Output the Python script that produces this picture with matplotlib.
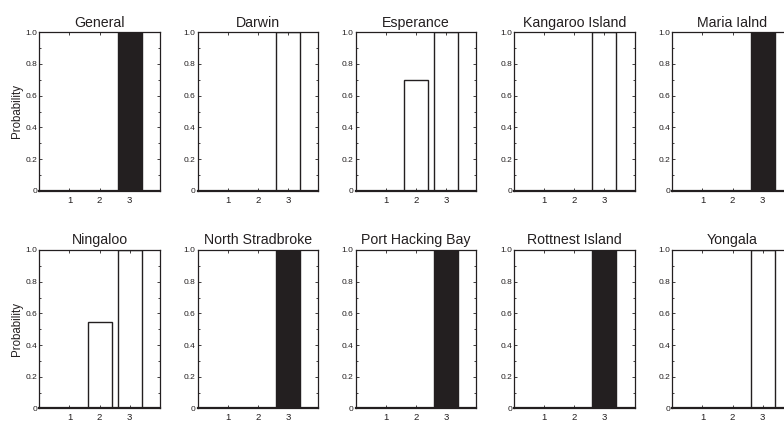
import numpy as np
import matplotlib
import matplotlib.pyplot as plt

matplotlib.use("Agg")

plt.rcParams['font.family'] = ['Liberation Sans', 'DejaVu Sans']

# panel names and bar heights (classes 1, 2, 3)
sites = ['General', 'Darwin', 'Esperance', 'Kangaroo Island', 'Maria Ialnd',
         'Ningaloo', 'North Stradbroke', 'Port Hacking Bay', 'Rottnest Island', 'Yongala']
classes = [1, 2, 3]
probs = [
    [0, 0, 1.0],
    [0, 0, 1.0],
    [0, 0.70, 1.0],
    [0, 0, 1.0],
    [0, 0, 1.0],
    [0, 0.545, 1.0],
    [0, 0, 1.0],
    [0, 0, 1.0],
    [0, 0, 1.0],
    [0, 0, 1.0],
]
filled = [True, False, False, False, True, False, True, True, True, False]
yticks = [0, 0.2, 0.4, 0.6, 0.8, 1.0]
ytick_labels = ['0', '0.2', '0.4', '0.6', '0.8', '1.0']

ink = '#231f20'
W, H = 784, 424
fig = plt.figure(figsize=(W / 100, H / 100), dpi=100)

# axes boxes in pixels (last column runs past the edge)
col_left = [39.3, 197.5, 355.7, 514.0, 672.3]
row_top = [32.3, 250.0]
ax_w, ax_h = 120.5, 158.4

for i, name in enumerate(sites):
    r, c = divmod(i, 5)
    rect = [col_left[c] / W, 1 - (row_top[r] + ax_h) / H, ax_w / W, ax_h / H]
    ax = fig.add_axes(rect)
    fc = ink if filled[i] else 'white'
    ax.bar(classes, probs[i], width=0.8, color=fc, edgecolor=ink, linewidth=1.0)
    ax.set_xlim(0, 4)
    ax.set_ylim(0, 1)
    ax.set_xticks(classes)
    ax.set_yticks(yticks)
    ax.set_yticklabels(ytick_labels)
    ax.set_yticks(np.arange(0.1, 1.0, 0.2), minor=True)
    ax.tick_params(which='both', direction='in', top=True, right=True,
                   width=0.6, colors=ink, length=2.5)
    ax.tick_params(which='minor', length=1.5)
    ax.tick_params(axis='x', labelsize=6.8, pad=3.5)
    ax.tick_params(axis='y', labelsize=6, pad=1.5)
    for s in ax.spines.values():
        s.set_linewidth(0.9)
        s.set_color(ink)
    ax.spines['bottom'].set_linewidth(1.6)
    ax.set_title(name, fontsize=10.2, pad=4, color=ink)
    if c == 0:
        ax.set_ylabel('Probability', fontsize=8.3, color=ink, labelpad=2)

fig.savefig('out.png', dpi=100)
